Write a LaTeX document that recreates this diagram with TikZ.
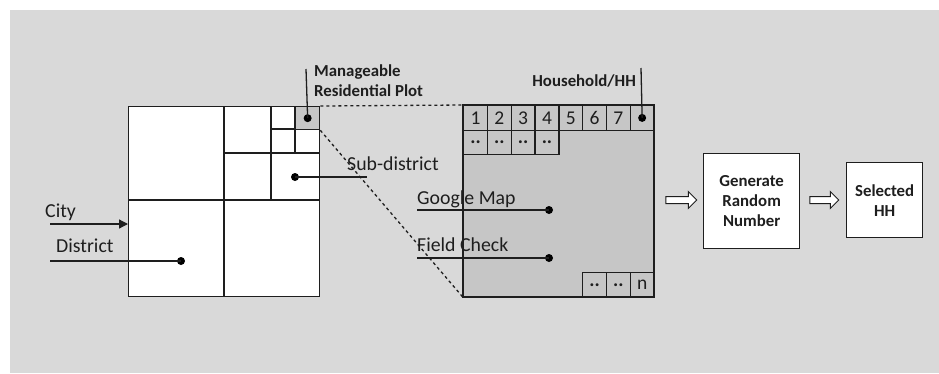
\documentclass[tikz,border=0pt]{standalone}
\usepackage{fontspec}
\setmainfont{Carlito}
\usetikzlibrary{arrows.meta,shapes.arrows}
\definecolor{bg}{HTML}{D9D9D9}
\definecolor{boxgray}{HTML}{C6C6C6}
\definecolor{ln}{HTML}{1E1E1E}
\begin{document}
\begin{tikzpicture}[x=1pt,y=-1pt,
  ln/.style={line width=1.3pt, draw=ln},
  dotmark/.style={circle, fill=black, inner sep=0pt, minimum size=8pt},
  lbl/.style={font=\fontsize{19.8}{20}\selectfont, inner sep=0pt, anchor=west, text=ln},
  blbl/.style={font=\bfseries\fontsize{16.8}{20}\selectfont, inner sep=0pt, align=left, anchor=west, text=ln},
  region/.style={draw=ln, line width=1.3pt, fill=white, inner sep=0pt, anchor=north west},
  cell/.style={draw=ln, line width=1.3pt, minimum width=23.8pt, minimum height=24.5pt, inner sep=0pt, anchor=north west, font=\fontsize{19.5}{19.5}\selectfont, text=ln},
  procbox/.style={draw=ln, line width=1.3pt, fill=white, inner sep=0pt, anchor=north west, align=center, font=\bfseries\fontsize{16.8}{20}\selectfont, text=ln},
  flowarrow/.style={single arrow, draw=ln, line width=1pt, fill=white, inner sep=3pt, minimum height=31pt, single arrow head extend=5pt, shape border rotate=0}
]
\useasboundingbox (0,0) rectangle (939,373);
\fill[bg] (10,10) rectangle (939,373);

% ---------- city map ----------
\node[region, minimum width=191pt, minimum height=190pt] (city) at (128,106) {};
\draw[ln] (224,106) -- (224,296);
\draw[ln] (128,200) -- (319,200);
\draw[ln] (271,106) -- (271,200);
\draw[ln] (224,153) -- (319,153);
\draw[ln] (295,106) -- (295,153);
\draw[ln] (271,129) -- (319,129);
\node[region, fill=boxgray, minimum width=24pt, minimum height=23pt] (plot) at (295,106) {};

% ---------- household block ----------
\node[region, fill=boxgray, minimum width=190pt, minimum height=191pt] (hhbox) at (463,105) {};
\foreach \i in {1,...,7} {
  \node[cell] (c\i) at ({463+(\i-1)*23.8},105) {\i};
}
\node[cell] (c8) at ({463+7*23.8},105) {};
\foreach \i in {1,...,4} {
  \node[cell] (d\i) at ({463+(\i-1)*23.8},129.5) {\textbf{..}};
}
\node[cell] (e1) at (582,272) {\textbf{..}};
\node[cell] (e2) at (605.8,272) {\textbf{..}};
\node[cell] (e3) at (629.6,272) {n};

% ---------- dashed zoom lines ----------
\draw[dashed, line width=1pt, ln] (plot.north east) -- (hhbox.north west);
\draw[dashed, line width=1pt, ln] (plot.south east) -- (hhbox.south west);

% ---------- labels ----------
\node[lbl] (citylbl) at (45,212) {City};
\coordinate (cityin) at (50,224);
\draw[ln, -{Triangle[length=9pt,width=9pt]}] (cityin) -- (city.west |- cityin);

\node[lbl] (distlbl) at (56,246) {District};
\coordinate (distin) at (50,261);
\node[dotmark] (distdot) at (181,261) {};
\draw[ln] (distin) -- (distdot.center);

\node[lbl] (sublbl) at (347,164) {Sub-district};
\node[dotmark] (subdot) at (295,177) {};
\coordinate (subend) at (367,177);
\draw[ln] (subdot.center) -- (subend);

\node[blbl] (plotlbl) at (314,81) {Manageable\\Residential Plot};
\node[dotmark] (plotdot) at (plot.center) {};
\coordinate (plottop) at (306,69);
\draw[ln] (plottop) -- (plotdot.center);

\node[blbl, anchor=east] (hhlbl) at (636,81) {Household/HH};
\node[dotmark] (hhdot) at (c8.center) {};
\coordinate (hhtop) at (641,68);
\draw[ln] (hhtop) -- (hhdot.center);

\node[lbl] (gmlbl) at (417,199) {Google Map};
\coordinate (gmin) at (417,210);
\node[dotmark] (gmdot) at (549,210) {};
\draw[ln] (gmin) -- (gmdot.center);

\node[lbl] (fclbl) at (417,245) {Field Check};
\coordinate (fcin) at (417,258);
\node[dotmark] (fcdot) at (549,258) {};
\draw[ln] (fcin) -- (fcdot.center);
\draw[ln, fill=none] (hhbox.north west) rectangle (hhbox.south east);

% ---------- process ----------
\node[procbox, minimum width=96pt, minimum height=95pt] (grn) at (703,153) {Generate\\Random\\Number};
\node[procbox, minimum width=76pt, minimum height=75pt] (sel) at (846,162) {Selected\\HH};
\node[flowarrow] (a1) at (679.5,200) {};
\node[flowarrow, minimum height=29pt] (a2) at (822.5,200) {};
\end{tikzpicture}
\end{document}
